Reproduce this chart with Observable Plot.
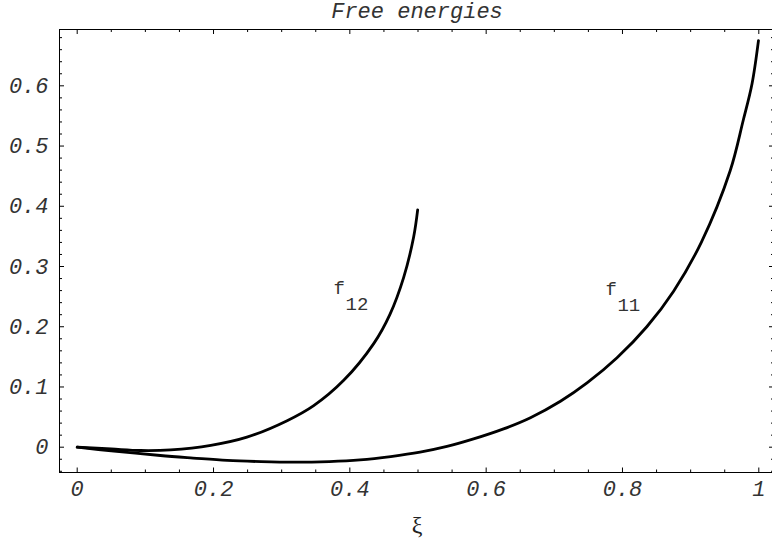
<!DOCTYPE html>
<html>
<head>
<meta charset="utf-8">
<script src="https://cdn.jsdelivr.net/npm/d3@7"></script>
<script src="https://cdn.jsdelivr.net/npm/@observablehq/plot@0.6"></script>
<style>
  html, body { margin: 0; padding: 0; background: #fff; overflow: hidden; }
  svg { max-width: none !important; }
</style>
</head>
<body>
<div id="chart"></div>
<script>
// ---- data ----
const titleText = "Free energies";
const xLabelText = "ξ";

const f11X = [0, 0.05, 0.122, 0.17, 0.22, 0.27, 0.318, 0.37, 0.415, 0.46, 0.503, 0.5425, 0.5815, 0.6255, 0.665, 0.709, 0.748, 0.792, 0.836, 0.875, 0.916, 0.958, 0.977, 0.990, 0.9995];
const f11Y = [0, -0.006, -0.0138, -0.018, -0.022, -0.024, -0.0249, -0.0238, -0.021, -0.0155, -0.0083, 0.0012, 0.0137, 0.0304, 0.049, 0.0763, 0.1067, 0.1485, 0.2004, 0.259, 0.341, 0.459, 0.542, 0.603, 0.675];

const f12X = [0, 0.05, 0.093, 0.137, 0.196, 0.249, 0.308, 0.347, 0.391, 0.435, 0.459, 0.479, 0.4936, 0.4995];
const f12Y = [0, -0.003, -0.0055, -0.0045, 0.003, 0.0166, 0.044, 0.069, 0.111, 0.172, 0.221, 0.282, 0.349, 0.394];

const curveLabels = ["f", "f"];
const curveSubs = ["12", "11"];
const curveLabelX = [0.376, 0.775];
const curveLabelY = [0.255, 0.252];

const xMajor = [0, 0.2, 0.4, 0.6, 0.8, 1];
const xMajorLabels = ["0", "0.2", "0.4", "0.6", "0.8", "1"];
const yMajor = [0, 0.1, 0.2, 0.3, 0.4, 0.5, 0.6];
const yMajorLabels = ["0", "0.1", "0.2", "0.3", "0.4", "0.5", "0.6"];
const xMinor = d3.range(0, 1.0001, 0.05).filter(v => !xMajor.some(m => Math.abs(m - v) < 1e-9));
const yMinor = d3.range(-0.04, 0.6801, 0.02).filter(v => !yMajor.some(m => Math.abs(m - v) < 1e-9));

// ---- build ----
const f11 = f11X.map((x, i) => ({x, y: f11Y[i]}));
const f12 = f12X.map((x, i) => ({x, y: f12Y[i]}));
const labels = curveLabels.map((t, i) => ({t, sub: curveSubs[i], x: curveLabelX[i], y: curveLabelY[i]}));

const W = 776, H = 543;
const mL = 59, mR = 2, mT = 29, mB = 71;
const fw = W - mL - mR, fh = H - mT - mB;
const majorLen = 5, minorLen = 3;

const monoItalic = {fontFamily: "Liberation Mono, Courier New, monospace", fontStyle: "italic", fontSize: 22, fill: "#333"};

const chart = Plot.plot({
  width: W,
  height: H,
  marginLeft: mL,
  marginRight: mR,
  marginTop: mT,
  marginBottom: mB,
  style: {maxWidth: "none"},
  x: {domain: [-0.02597, 1.02303]},
  y: {domain: [-0.0420, 0.6935]},
  marks: [
    Plot.frame({stroke: "#000", strokeWidth: 1}),
    // bottom ticks
    Plot.tickX(xMajor, {x: d => d, insetTop: fh - majorLen + 0.5, stroke: "#000"}),
    Plot.tickX(xMinor, {x: d => d, insetTop: fh - minorLen + 0.5, stroke: "#000"}),
    // top ticks
    Plot.tickX(xMajor, {x: d => d, insetBottom: fh - majorLen, stroke: "#000"}),
    Plot.tickX(xMinor, {x: d => d, insetBottom: fh - minorLen, stroke: "#000"}),
    // left ticks
    Plot.tickY(yMajor, {y: d => d, insetRight: fw - majorLen, stroke: "#000"}),
    Plot.tickY(yMinor, {y: d => d, insetRight: fw - minorLen, stroke: "#000"}),
    // right ticks
    Plot.tickY(yMajor, {y: d => d, insetLeft: fw - majorLen, stroke: "#000"}),
    Plot.tickY(yMinor, {y: d => d, insetLeft: fw - minorLen, stroke: "#000"}),
    // axes labels
    Plot.axisX({ticks: xMajor, tickSize: 0, tickPadding: 8, label: null,
      tickFormat: d => xMajorLabels[xMajor.indexOf(d)], ...monoItalic}),
    Plot.axisY({ticks: yMajor, tickSize: 0, tickPadding: 11, label: null,
      tickFormat: d => yMajorLabels[yMajor.indexOf(d)], ...monoItalic}),
    // curves
    Plot.line(f12, {x: "x", y: "y", stroke: "#000", strokeWidth: 2.8, curve: "catmull-rom"}),
    Plot.line(f11, {x: "x", y: "y", stroke: "#000", strokeWidth: 2.8, curve: "catmull-rom"}),
    // curve labels
    Plot.text(labels, {x: "x", y: "y", text: "t", textAnchor: "start", lineAnchor: "bottom",
      fontFamily: "Liberation Mono, monospace", fontSize: 19, fill: "#333"}),
    Plot.text(labels, {x: "x", y: "y", text: "sub", textAnchor: "start", lineAnchor: "bottom", dx: 12, dy: 16,
      fontFamily: "Liberation Mono, monospace", fontSize: 19, fill: "#333"}),
    // title
    Plot.text([titleText], {frameAnchor: "top", lineAnchor: "bottom", dy: -12, ...monoItalic}),
    // x label
    Plot.text([xLabelText], {frameAnchor: "bottom", lineAnchor: "bottom", dy: 60,
      fontFamily: "Liberation Serif, Times New Roman, serif", fontSize: 24, fill: "#222"})
  ]
});
document.getElementById("chart").appendChild(chart);
</script>
</body>
</html>
